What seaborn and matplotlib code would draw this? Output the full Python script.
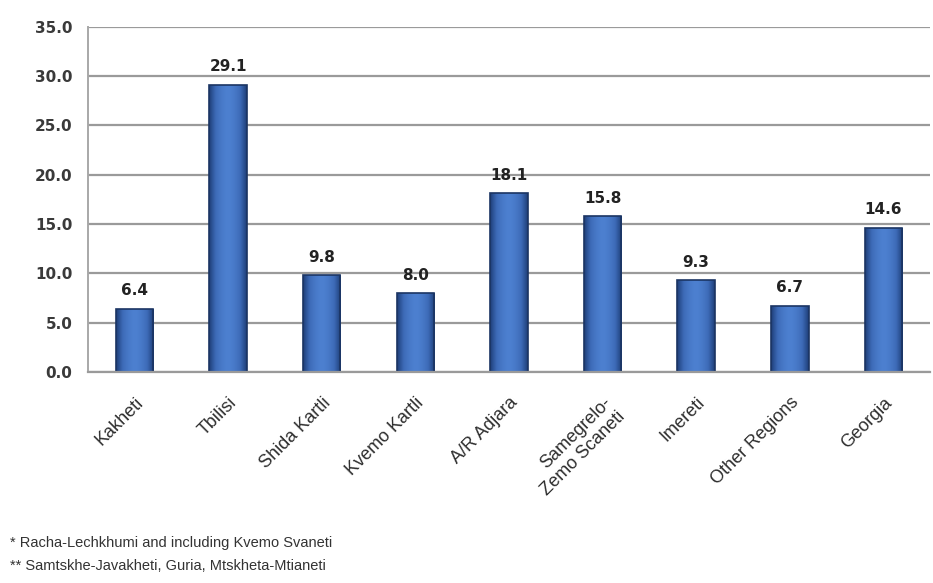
import matplotlib
matplotlib.use("Agg")
import matplotlib.pyplot as plt
import seaborn as sns
import pandas as pd
import numpy as np

regions = ["Kakheti", "Tbilisi", "Shida Kartli", "Kvemo Kartli", "A/R Adjara",
           "Samegrelo-\nZemo Scaneti", "Imereti", "Other Regions", "Georgia"]
values = [6.4, 29.1, 9.8, 8.0, 18.1, 15.8, 9.3, 6.7, 14.6]
yticks = [0, 5, 10, 15, 20, 25, 30, 35]
footnotes = ["* Racha-Lechkhumi and including Kvemo Svaneti",
             "** Samtskhe-Javakheti, Guria, Mtskheta-Mtianeti"]

sns.set_style("white")
plt.rcParams["font.family"] = ["DejaVu Sans"]

df = pd.DataFrame({"region": regions, "value": values})

fig = plt.figure(figsize=(9.33, 5.83), dpi=100)
ax = fig.add_axes([0.094, 0.362, 0.903, 0.592])

sns.barplot(data=df, x="region", y="value", ax=ax, color="#3E6FBF",
            width=0.4, edgecolor="#1B3563", linewidth=1.2, saturation=1)

# shaded fill inside each bar: dark sides, lighter middle
shade = np.abs(np.linspace(-1, 1, 64))
cmap = matplotlib.colors.LinearSegmentedColormap.from_list(
    "barshade", ["#4D80D0", "#3D6BB8", "#1E3E78"])
for patch in ax.patches:
    x0, w, h = patch.get_x(), patch.get_width(), patch.get_height()
    img = ax.imshow(shade[np.newaxis, :] ** 1.6, cmap=cmap, aspect="auto",
                    extent=[x0, x0 + w, 0, h], vmin=0, vmax=1, zorder=patch.get_zorder())
    img.set_clip_path(patch)
    patch.set_facecolor("none")
    patch.set_zorder(patch.get_zorder() + 0.1)
ax.set_xlim(-0.5, len(regions) - 0.5)

ax.set_ylim(0, 35)
ax.set_yticks(yticks)
ax.set_yticklabels([f"{t:.1f}" for t in yticks], fontsize=11,
                   fontweight="bold", color="#3A3A3A")
ax.yaxis.grid(True, color="#9A9A9A", linewidth=1.6)
ax.set_axisbelow(True)
for s in ["top", "right"]:
    ax.spines[s].set_visible(False)
ax.spines["left"].set_color("#A8A8A8")
ax.spines["bottom"].set_color("#9A9A9A")
ax.spines["left"].set_linewidth(1.4)
ax.spines["bottom"].set_linewidth(1.6)
ax.tick_params(axis="y", length=4, color="#A8A8A8", pad=7)
ax.tick_params(axis="x", length=0, pad=16)

ax.set_xticks(range(len(regions)))
ax.set_xticklabels(regions, rotation=45, ha="right", rotation_mode="anchor",
                   fontsize=13, color="#2E2E2E", family="Liberation Sans",
                   linespacing=1.25)
ax.set_xlabel("")
ax.set_ylabel("")

for patch, v in zip(ax.patches, values):
    ax.annotate(f"{v:.1f}", (patch.get_x() + patch.get_width() / 2, v),
                xytext=(0, 13), textcoords="offset points", ha="center",
                va="center", fontsize=11, fontweight="bold", color="#222222")

fig.text(0.011, 1 - 543 / 583, footnotes[0], fontsize=10.5, color="#333333",
         family="Liberation Sans", va="center")
fig.text(0.011, 1 - 566 / 583, footnotes[1], fontsize=10.5, color="#333333",
         family="Liberation Sans", va="center")

fig.savefig("out.png", dpi=100, facecolor="white")
